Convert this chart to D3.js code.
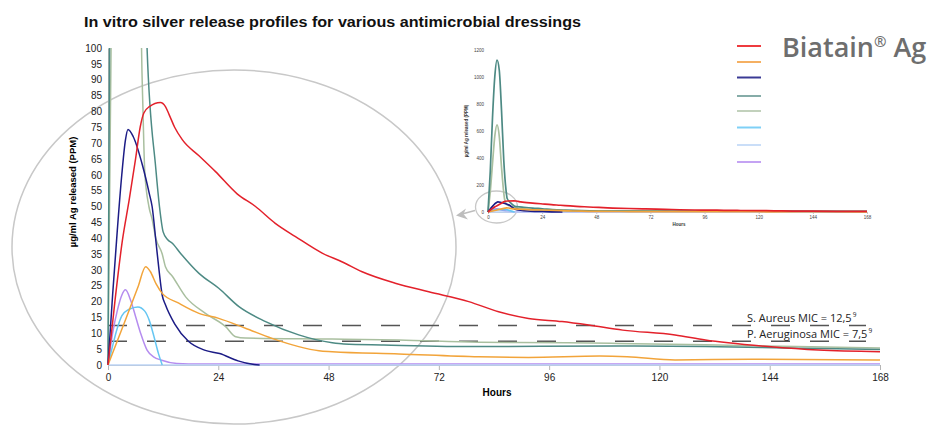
<!DOCTYPE html>
<html>
<head>
<meta charset="utf-8">
<script src="https://cdn.jsdelivr.net/npm/d3@7"></script>
<style>
  body { margin: 0; background: #fff; }
  svg { display: block; }
  .tick text { font-family: "Liberation Sans", Arial, sans-serif; }
</style>
</head>
<body>
<script>
'use-strict';

// x ticks (hours) and y ticks (ppm)
let hourTicks = [0, 24, 48, 72, 96, 120, 144, 168];
let ppmTicks = d3.range(0, 101, 5);
let insetPpmTicks = [0, 200, 400, 600, 800, 1000, 1200];

// series: [hour, µg/ml]
let redSeries = [[0, 0], [1.5, 20], [3.1, 39], [4.6, 52], [6, 65], [7, 75], [7.8, 79.5], [9, 81.5], [11.4, 82.8], [12.5, 81.5],
  [13.3, 79], [14.5, 75], [16.2, 71], [19.8, 66], [23.4, 61], [28.1, 54], [32.1, 50], [36.4, 44.7], [40.8, 40.5],
  [46.6, 35.3], [51, 32.5], [55.3, 29.4], [62.5, 25.8], [69.8, 23.1], [78.5, 20], [85, 16.8], [91.5, 14.7], [98.8, 13.7],
  [104.6, 12.6], [112, 11], [123.4, 9.5], [130, 7.9], [135, 7.0], [143.7, 5.8], [154.6, 4.7], [168, 4.2]];
let orangeSeries = [[0, 0], [4, 15], [6.5, 24.5], [8.2, 31], [9.2, 29.5], [10.5, 25.5], [11.8, 22.6], [15.4, 19.5],
  [19.8, 16.3], [24.1, 14.7], [29.9, 11.6], [35.7, 8.4], [41.5, 5.8], [45.9, 4.5], [48.8, 4.2], [63.3, 3.5], [80.7, 2.6],
  [91.5, 2.4], [107, 2.8], [113, 2.6], [123.4, 1.6], [140, 1.8], [168, 1.6]];
let navySeries = [[0, 0], [1, 22], [2, 42], [3, 60], [3.8, 71], [4.35, 74.3], [5.5, 72], [7.5, 63], [9, 54], [9.6, 50],
  [10.5, 38], [11.1, 30], [11.8, 22], [12.5, 19], [14.5, 13], [17.5, 7.5], [21, 4.7], [24.3, 3.6], [28.3, 1.3],
  [31.5, 0.2], [33, 0]];
let tealSeries = [[0, 0], [1, 300], [2, 700], [3, 1000], [4, 1125], [5, 1050], [6, 750], [7, 380], [8, 160], [8.5, 100],
  [10.4, 62], [11.2, 50], [12, 42], [13, 39.5], [14, 38.4], [15.8, 35.2], [19.8, 28.9], [24.1, 24.2], [28.5, 18.4],
  [34.3, 13.7], [41.5, 9.5], [48.8, 7], [51.3, 6.6], [60, 6.3], [80.7, 5.8], [111, 6.0], [130, 5.8], [150, 5.3], [168, 4.9]];
let sageSeries = [[0, 0], [1, 150], [2, 360], [3, 560], [4, 645], [5, 560], [6, 330], [7, 140], [7.3, 100], [7.6, 81],
  [8, 61], [8.9, 50], [9.6, 46], [10.4, 40], [11.8, 35], [12.5, 31], [14, 28], [16.9, 21.5], [21.2, 16.3], [25.6, 12.1],
  [27.8, 8.9], [29.9, 8.5], [48.8, 8.2], [63.3, 7.9], [80.7, 7.2], [100, 7.0], [111, 6.8], [130, 6.4], [150, 5.8], [168, 5.4]];
let skySeries = [[0, 0], [1, 6], [2, 11.5], [3, 15.5], [4.5, 17.5], [6.5, 18.3], [8, 17], [9, 14], [10, 9], [11, 3.5],
  [11.8, 0]];
let paleBlueSeries = [[0, 0], [168, 0]];
let lavenderSeries = [[0, 0], [1, 10], [2, 17], [3, 22], [3.8, 23.7], [4.9, 20.5], [6, 15.3], [7.1, 10], [8.5, 4.7],
  [10, 2.5], [11.5, 1.6], [15, 0.5], [20, 0.3], [168, 0.3]];

let seriesList = [redSeries, orangeSeries, navySeries, tealSeries, sageSeries, skySeries, paleBlueSeries, lavenderSeries];
let seriesColors = ["#e3212b", "#f2a43a", "#1c1c86", "#4d8a84", "#a9bf9f", "#66c6f2", "#bcd5f6", "#b58cef"];
let legendColors = ["#ee3b3f", "#f5b062", "#3a3a95", "#86aca8", "#c2d1bc", "#7fd0f6", "#cadef8", "#c4a3f3"];

// MIC lines
let micValues = [12.5, 7.5];
let micLabels = ["S. Aureus MIC = 12,5", "P. Aeruginosa MIC = 7,5"];

// main chart area
let main = { left: 108, right: 880, top: 48, bottom: 365 };
// inset chart area
let inset = { left: 488, right: 867, top: 50, bottom: 212 };

let svg = d3.select("body").append("svg")
  .attr("width", 933)
  .attr("height", 425);

let xScale = d3.scaleLinear().domain([0, 168]).range([main.left, main.right]);
let yScale = d3.scaleLinear().domain([0, 100]).range([main.bottom, main.top]);
let xInset = d3.scaleLinear().domain([0, 168]).range([inset.left, inset.right]);
let yInset = d3.scaleLinear().domain([0, 1200]).range([inset.bottom, inset.top]);

drawTitle();
drawEllipses();
drawMainAxes();
drawMicLines();
drawLines(xScale, yScale, "mainClip", main, 1.5);
drawInset();
drawLegend();

function drawTitle() {
  svg.append("text")
    .attr("x", 84)
    .attr("y", 27)
    .attr("textLength", 497)
    .attr("lengthAdjust", "spacingAndGlyphs")
    .style("font-family", "Liberation Sans, Arial, sans-serif")
    .style("font-weight", "bold")
    .style("font-size", "14.5px")
    .attr("fill", "#111")
    .text("In  vitro silver release profiles for various antimicrobial dressings");
}

// zoom circle and arrow
function drawEllipses() {
  svg.append("ellipse")
    .attr("cx", 234).attr("cy", 247)
    .attr("rx", 222).attr("ry", 177)
    .attr("fill", "none")
    .attr("stroke", "#c8c8c8")
    .attr("stroke-width", 1.5);

  svg.append("ellipse")
    .attr("cx", 496.5).attr("cy", 207)
    .attr("rx", 21).attr("ry", 16)
    .attr("fill", "none")
    .attr("stroke", "#c8c8c8")
    .attr("stroke-width", 1.3);

  svg.append("line")
    .attr("x1", 475).attr("y1", 210.5)
    .attr("x2", 462).attr("y2", 214)
    .attr("stroke", "#bdbdbd")
    .attr("stroke-width", 1.5);

  svg.append("path")
    .attr("d", "M456,215.5 L466,208.5 L463.5,214 L468,219.5 Z")
    .attr("fill", "#bdbdbd");
}

function drawMainAxes() {
  let xAxis = d3.axisBottom(xScale).tickValues(hourTicks).tickSize(5).tickPadding(4);
  let gx = svg.append("g")
    .attr("transform", "translate(0," + main.bottom + ")")
    .call(xAxis);
  gx.select(".domain").attr("stroke", "#b5b5b5");
  gx.selectAll(".tick line").attr("stroke", "#b5b5b5");
  gx.selectAll(".tick text").style("font-size", "10px").attr("fill", "#222");

  let yAxis = d3.axisLeft(yScale).tickValues(ppmTicks).tickSize(0).tickPadding(6);
  let gy = svg.append("g")
    .attr("transform", "translate(" + main.left + ",0)")
    .call(yAxis);
  gy.select(".domain").attr("stroke", "#b5b5b5");
  gy.selectAll(".tick text").style("font-size", "10px").attr("fill", "#222");

  // axis labels
  svg.append("text")
    .attr("x", (main.left + main.right) / 2 + 3)
    .attr("y", 396)
    .attr("text-anchor", "middle")
    .style("font-family", "Liberation Sans, Arial, sans-serif")
    .style("font-weight", "bold")
    .style("font-size", "10px")
    .text("Hours");

  svg.append("text")
    .attr("transform", "translate(76,192) rotate(-90)")
    .attr("text-anchor", "middle")
    .style("font-family", "Liberation Sans, Arial, sans-serif")
    .style("font-weight", "bold")
    .style("font-size", "9.5px")
    .text("µg/ml Ag released (PPM)");
}

function drawMicLines() {
  micValues.forEach((v, i) => {
    svg.append("line")
      .attr("x1", main.left).attr("x2", 866)
      .attr("y1", yScale(v)).attr("y2", yScale(v))
      .attr("stroke", "#555")
      .attr("stroke-width", 1.5)
      .attr("stroke-dasharray", "19,20");

    let t = svg.append("text")
      .attr("x", 747)
      .attr("y", yScale(v) - 3)
      .style("font-family", "Open Sans, sans-serif")
      .style("font-size", "11px")
      .attr("fill", "#222")
      .text(micLabels[i]);
    t.append("tspan")
      .attr("dy", -5)
      .attr("dx", 1)
      .style("font-size", "6.5px")
      .text("9");
  });
}

// draws every series with the given scales
function drawLines(x, y, clipId, area, width) {
  svg.append("clipPath")
    .attr("id", clipId)
    .append("rect")
    .attr("x", area.left - 2)
    .attr("y", area.top)
    .attr("width", area.right - area.left + 6)
    .attr("height", area.bottom - area.top + 2);

  let line = d3.line()
    .curve(d3.curveMonotoneX)
    .x((d) => x(d[0]))
    .y((d) => y(d[1]));

  let g = svg.append("g").attr("clip-path", "url(#" + clipId + ")");
  // draw from back to front so the red line sits on top
  for (let i = seriesList.length - 1; i >= 0; i--) {
    g.append("path")
      .datum(seriesList[i])
      .attr("fill", "none")
      .attr("stroke", seriesColors[i])
      .attr("stroke-width", width)
      .attr("d", line);
  }
}

function drawInset() {
  let xAxis = d3.axisBottom(xInset).tickValues(hourTicks).tickSize(2).tickPadding(2);
  let gx = svg.append("g")
    .attr("transform", "translate(0," + inset.bottom + ")")
    .call(xAxis);
  gx.select(".domain").attr("stroke", "#c8c8c8");
  gx.selectAll(".tick line").attr("stroke", "#c8c8c8");
  gx.selectAll(".tick text").style("font-size", "4.5px").attr("fill", "#444");

  let yAxis = d3.axisLeft(yInset).tickValues(insetPpmTicks).tickFormat(d3.format("d")).tickSize(0).tickPadding(4);
  let gy = svg.append("g")
    .attr("transform", "translate(" + inset.left + ",0)")
    .call(yAxis);
  gy.select(".domain").remove();
  gy.selectAll(".tick text").style("font-size", "4.5px").attr("fill", "#444");

  svg.append("text")
    .attr("x", 679).attr("y", 226)
    .attr("text-anchor", "middle")
    .style("font-family", "Liberation Sans, Arial, sans-serif")
    .style("font-weight", "bold")
    .style("font-size", "4.5px")
    .attr("fill", "#333")
    .text("Hours");

  svg.append("text")
    .attr("transform", "translate(468,131) rotate(-90)")
    .attr("text-anchor", "middle")
    .style("font-family", "Liberation Sans, Arial, sans-serif")
    .style("font-weight", "bold")
    .style("font-size", "4.5px")
    .attr("fill", "#333")
    .text("µg/ml Ag released (PPM)");

  drawLines(xInset, yInset, "insetClip", inset, 1.7);
}

function drawLegend() {
  let legendY = [46, 62, 77.5, 96, 111, 127.5, 145, 162];
  legendColors.forEach((c, i) => {
    svg.append("line")
      .attr("x1", 737).attr("x2", 761)
      .attr("y1", legendY[i]).attr("y2", legendY[i])
      .attr("stroke", c)
      .attr("stroke-width", 2);
  });

  let t = svg.append("text")
    .attr("x", 782)
    .attr("y", 57)
    .style("font-family", "Open Sans, sans-serif")
    .style("font-weight", 600)
    .style("font-size", "27px")
    .attr("fill", "#6e6e6e")
    .text("Biatain");
  t.append("tspan")
    .attr("dy", -10)
    .style("font-size", "15px")
    .text("®");
  t.append("tspan")
    .attr("dy", 10)
    .text(" Ag");
}
</script>
</body>
</html>
